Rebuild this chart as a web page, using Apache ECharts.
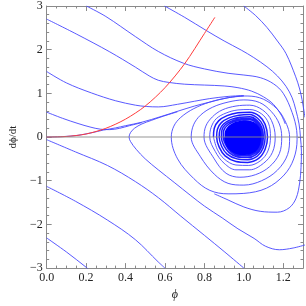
<!DOCTYPE html>
<html>
<head>
<meta charset="utf-8">
<script src="https://cdn.jsdelivr.net/npm/echarts@6/dist/echarts.min.js"></script>
<style>
html,body{margin:0;padding:0;background:#fff;}
#chart{width:306px;height:306px;}
</style>
</head>
<body>
<div id="chart"></div>
<script>
// Tick labels
const xTickLabels = ['0.0','0.2','0.4','0.6','0.8','1.0','1.2'];
const yTickLabels = ['\u22123','\u22122','\u22121','0','1','2','3'];

// Red reference curve [phi, dphi/dt]
const redCurve = [[0,0],[0.1,0.013],[0.2,0.07],[0.3,0.2],[0.4,0.41],[0.5,0.71],[0.6,1.13],[0.7,1.68],[0.8,2.37],[0.853,2.74]];

// Blue trajectories
const trajE1 = [[1.0,3.0],[1.06,2.78],[1.117,2.51],[1.17,2.2],[1.214,1.91],[1.263,1.38],[1.283,1.1],[1.295,0.86],[1.31,0.45]];
const trajE2 = [[0.598,3.0],[0.7,2.74],[0.809,2.44],[0.9,2.2],[0.987,1.99],[1.05,1.82],[1.117,1.61],[1.17,1.4],[1.214,1.16],[1.245,0.9],[1.263,0.63],[1.28,0.3],[1.287,0.0],[1.292,-0.34],[1.29,-0.7],[1.283,-1.05],[1.265,-1.4],[1.23,-1.62],[1.17,-1.72],[1.083,-1.70],[1.0,-1.6],[0.92,-1.44],[0.85,-1.3]];
const trajU1 = [
  [0.201,3.0],[0.3,2.76],[0.45,2.3],[0.566,1.96],[0.694,1.69],[0.8,1.56],[0.92,1.46],[1.0,1.42],[1.083,1.36],[1.15,1.22],[1.2,1.0],[1.245,0.56],[1.268,0.15],[1.27,-0.05],
  [1.253,-0.5],[1.204,-0.87],[1.115,-1.17],[1.0,-1.29],[0.92,-1.3],[0.827,-1.22],[0.746,-0.95],[0.664,-0.5],[0.632,0],
  [0.645,0.25],[0.68,0.45],[0.746,0.65],[0.827,0.8],[0.92,0.9],[1.0,0.94],[1.08,0.9],[1.15,0.72],[1.2,0.45],[1.232,0],
  [1.222,-0.4],[1.17,-0.76],[1.09,-1.0],[1.0,-1.1],[0.92,-1.06],[0.85,-0.85],[0.78,-0.45],[0.733,0],
  [0.745,0.28],[0.78,0.5],[0.84,0.68],[0.92,0.8],[1.0,0.85],[1.08,0.79],[1.14,0.58],[1.18,0.3],[1.192,0],
  [1.18,-0.38],[1.13,-0.68],[1.06,-0.86],[0.98,-0.92],[0.91,-0.83],[0.85,-0.5],[0.798,0],
  [0.807,0.25],[0.84,0.46],[0.89,0.62],[0.96,0.71],[1.03,0.73],[1.095,0.62],[1.14,0.38],[1.159,0],
  [1.145,-0.35],[1.1,-0.6],[1.03,-0.75],[0.96,-0.75],[0.9,-0.6],[0.855,-0.33],[0.827,0],
  [0.834,0.22],[0.86,0.42],[0.91,0.55],[0.97,0.62],[1.03,0.63],[1.09,0.53],[1.125,0.32],[1.135,0],
  [1.122,-0.32],[1.085,-0.54],[1.025,-0.65],[0.96,-0.64],[0.9,-0.5],[0.865,-0.28],[0.846,0]
];
// Tightly wound inner turns of the spiral
const spiralInner = [
  [0.846,0],
  [0.85,0.2],[0.872,0.37],[0.915,0.49],[0.97,0.555],[1.03,0.57],[1.078,0.48],[1.108,0.29],[1.12,0],
  [1.108,-0.28],[1.075,-0.49],[1.02,-0.58],[0.96,-0.56],[0.905,-0.43],[0.875,-0.23],[0.862,0],
  [0.866,0.18],[0.886,0.33],[0.925,0.44],[0.975,0.5],[1.03,0.515],[1.07,0.43],[1.098,0.26],[1.108,0],
  [1.098,-0.25],[1.068,-0.44],[1.02,-0.52],[0.965,-0.5],[0.915,-0.39],[0.887,-0.21],[0.875,0],
  [0.879,0.17],[0.897,0.3],[0.933,0.4],[0.98,0.455],[1.03,0.465],[1.065,0.39],[1.09,0.23],[1.099,0],
  [1.09,-0.23],[1.062,-0.4],[1.018,-0.47],[0.968,-0.455],[0.925,-0.355],[0.898,-0.19],[0.886,0],
  [0.889,0.16],[0.906,0.28],[0.94,0.37],[0.985,0.42],[1.03,0.425],[1.062,0.36],[1.085,0.21],[1.092,0],
  [1.084,-0.21],[1.058,-0.37],[1.017,-0.43],[0.97,-0.42],[0.932,-0.33],[0.907,-0.17],[0.896,0],
  [0.898,0.15],[0.914,0.26],[0.946,0.345],[0.988,0.39],[1.03,0.395],[1.06,0.335],[1.081,0.2],[1.087,0],
  [1.08,-0.2],[1.055,-0.35],[1.015,-0.41],[0.972,-0.4],[0.937,-0.31],[0.913,-0.16],[0.904,0]
];
const trajT2 = [[0,2.70],[0.15,2.36],[0.32,1.95],[0.45,1.6],[0.52,1.4],[0.566,1.3],[0.62,1.25],[0.7,1.21],[0.8,1.19],[0.9,1.17],[0.97,1.13],[1.04,1.05],[1.1,0.92],[1.15,0.75],[1.19,0.5],[1.21,0.3]];
const trajT3 = [[0,1.50],[0.1,1.24],[0.227,1.01],[0.35,0.83],[0.45,0.73],[0.505,0.70],[0.566,0.69],[0.664,0.75],[0.75,0.82],[0.827,0.88],[0.92,0.93],[1.0,0.95]];
const trajT4 = [[0,0.57],[0.08,0.43],[0.159,0.31],[0.22,0.23],[0.272,0.18],[0.32,0.17],[0.37,0.2],[0.42,0.26],[0.483,0.33]];
const trajBand = [[0,0],[0.08,0.01],[0.159,0.04],[0.23,0.1],[0.288,0.16],[0.35,0.21],[0.40,0.26],[0.483,0.34],[0.58,0.47],[0.664,0.59],[0.75,0.71],[0.827,0.8],[0.92,0.9],[1.0,0.94]];
const trajNose = [[1.31,-2.47],[1.25,-2.54],[1.18,-2.58],[1.11,-2.5],[1.052,-2.32],[0.97,-2.1],[0.89,-1.85],[0.8,-1.58],[0.728,-1.33],[0.65,-1.05],[0.566,-0.75],[0.5,-0.5],[0.454,-0.28],[0.425,-0.1],[0.418,0],[0.425,0.1],[0.445,0.2],[0.483,0.3],[0.53,0.38],[0.58,0.46],[0.664,0.58]];
const trajL3 = [[0,-0.06],[0.146,-0.34],[0.308,-0.65],[0.45,-1.02],[0.567,-1.39],[0.68,-1.81],[0.8,-2.25],[0.9,-2.62],[1.0,-3.0]];
const trajL2 = [[0,-1.13],[0.146,-1.47],[0.308,-1.9],[0.45,-2.35],[0.566,-2.86],[0.6,-3.0]];
const trajL1 = [[0,-2.31],[0.1,-2.63],[0.2,-2.98],[0.21,-3.02]];
// Dense spiral core around the fixed point
const coreBoundary = [[0.902,0],[0.908,0.17],[0.935,0.3],[0.985,0.375],[1.035,0.37],[1.068,0.29],[1.086,0.14],[1.088,-0.04],[1.078,-0.22],[1.05,-0.36],[1.005,-0.41],[0.958,-0.385],[0.922,-0.27],[0.905,-0.13]];

const BLUE = '#4646ff';
const FRAME = '#8a8a8a';
const FONT = "'Liberation Serif', 'DejaVu Serif', serif";

const blueTrajs = [trajE1, trajE2, trajU1, trajT2, trajT3, trajT4, trajBand, trajNose, trajL3, trajL2, trajL1];

function xFmt(v){ const i = Math.round(v/0.2); return (Math.abs(v - i*0.2) < 1e-6 && xTickLabels[i] !== undefined) ? xTickLabels[i] : ''; }
function yFmt(v){ const i = Math.round(v) + 3; return (Math.abs(v - Math.round(v)) < 1e-6 && yTickLabels[i] !== undefined) ? yTickLabels[i] : ''; }

const axisCommon = {
  type: 'value',
  axisLine: { show: true, onZero: false, lineStyle: { color: FRAME, width: 1 } },
  axisTick: { show: true, inside: true, length: 5, lineStyle: { color: FRAME, width: 1 } },
  minorTick: { show: true, length: 2.5, lineStyle: { color: FRAME, width: 1 } },
  splitLine: { show: false }
};

const series = blueTrajs.map(d => ({
  type: 'line', data: d, showSymbol: false, smooth: 0.35, silent: true, clip: true,
  lineStyle: { color: BLUE, width: 0.9 }, z: 2
}));
series.push({
  type: 'line', data: spiralInner, showSymbol: false, smooth: 0.35, silent: true, clip: true,
  lineStyle: { color: '#1e1eff', width: 1.5 }, z: 2
});
series.push({
  type: 'custom', data: coreBoundary, clip: true, silent: true, z: 3,
  renderItem: function(params, api){
    if (params.dataIndex !== 0) return null;
    const pts = coreBoundary.map(p => api.coord(p));
    return { type: 'polygon', shape: { points: pts, smooth: 0.4 }, style: { fill: '#0000ff' } };
  }
});
series.push({
  type: 'line', data: redCurve, showSymbol: false, smooth: 0.3, silent: true, clip: true,
  lineStyle: { color: '#ff3b3b', width: 1 }, z: 4,
  markLine: { silent: true, symbol: 'none', label: { show: false }, animation: false,
    lineStyle: { color: '#888', opacity: 0.6, width: 1.5, type: 'solid' }, data: [{ yAxis: 0 }] }
});

const chart = echarts.init(document.getElementById('chart'), null, { renderer: 'canvas' });
chart.setOption({
  animation: false,
  backgroundColor: '#fff',
  grid: { left: 37, top: 5, width: 267.5, height: 266.3, containLabel: false },
  xAxis: [
    Object.assign({}, axisCommon, { position: 'bottom', min: 0, max: 1.3, interval: 0.2,
      minorTick: Object.assign({}, axisCommon.minorTick, { splitNumber: 4 }),
      axisLabel: { show: true, margin: 4, formatter: xFmt, color: '#222', fontFamily: FONT, fontSize: 12 },
      name: '\u03D5', nameLocation: 'middle', nameGap: 20,
      nameTextStyle: { fontFamily: FONT, fontStyle: 'italic', fontSize: 12, color: '#222' } }),
    Object.assign({}, axisCommon, { position: 'top', min: 0, max: 1.3, interval: 0.2,
      minorTick: Object.assign({}, axisCommon.minorTick, { splitNumber: 4 }),
      axisLabel: { show: false } })
  ],
  yAxis: [
    Object.assign({}, axisCommon, { position: 'left', min: -3, max: 3, interval: 1,
      minorTick: Object.assign({}, axisCommon.minorTick, { splitNumber: 5 }),
      axisLabel: { show: true, margin: 4, formatter: yFmt, color: '#222', fontFamily: FONT, fontSize: 12 },
      name: 'd\u03D5/dt', nameLocation: 'middle', nameGap: 21, nameRotate: 90,
      nameTextStyle: { fontFamily: FONT, fontSize: 11, color: '#222' } }),
    Object.assign({}, axisCommon, { position: 'right', min: -3, max: 3, interval: 1,
      minorTick: Object.assign({}, axisCommon.minorTick, { splitNumber: 5 }),
      axisLabel: { show: false } })
  ],
  series: series
});
</script>
</body>
</html>
